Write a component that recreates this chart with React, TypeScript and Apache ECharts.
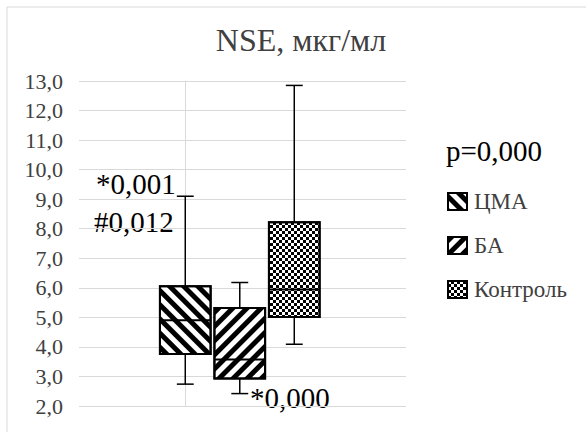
import React, { useEffect, useRef } from "react";
import * as echarts from "echarts";

// Groups and their box-and-whisker statistics (NSE, мкг/мл)
const groups = ["ЦМА", "БА", "Контроль"];
const slotPositions = [0, 1, 2];
const minValues = [2.74, 2.42, 4.09];
const q1Values = [3.76, 2.93, 5.01];
const medianValues = [4.9, 3.57, 5.94];
const q3Values = [6.05, 5.32, 8.22];
const maxValues = [9.1, 6.18, 12.85];

// Y axis range and step
const yMin = 2;
const yMax = 13;
const yStep = 1;

// Significance notes
const pTotal = "p=0,000";
const noteCma1 = "*0,001";
const noteCma2 = "#0,012";
const noteBa = "*0,000";

const SERIF = "Liberation Serif";
const TEXT_GREY = "#404040";
const GRID_GREY = "#d9d9d9";

const decals: any[] = [
  {
    symbol: "rect",
    symbolSize: 1,
    dashArrayX: [1, 0],
    dashArrayY: [5, 5],
    rotation: Math.PI / 4,
    color: "#000",
    backgroundColor: "#fff",
  },
  {
    symbol: "rect",
    symbolSize: 1,
    dashArrayX: [1, 0],
    dashArrayY: [5, 5],
    rotation: -Math.PI / 4,
    color: "#000",
    backgroundColor: "#fff",
  },
  {
    symbol: "rect",
    symbolSize: 1,
    dashArrayX: [
      [3, 3],
      [0, 3, 3, 0],
    ],
    dashArrayY: [3, 0],
    color: "#000",
    backgroundColor: "#fff",
  },
];

function renderBox(decal: any) {
  return (params: any, api: any) => {
    const x = api.value(0);
    const pMin = api.coord([x, api.value(1)]);
    const pQ1 = api.coord([x, api.value(2)]);
    const pMed = api.coord([x, api.value(3)]);
    const pQ3 = api.coord([x, api.value(4)]);
    const pMax = api.coord([x, api.value(5)]);
    const slot = api.size([1, 0])[0];
    const boxW = slot * 0.93;
    const capW = slot * 0.31;
    const cx = pMed[0];
    const lineStyle = { stroke: "#000", lineWidth: 1.5 };
    return {
      type: "group",
      children: [
        {
          type: "line",
          shape: { x1: cx, y1: pQ3[1], x2: cx, y2: pMax[1] },
          style: lineStyle,
        },
        {
          type: "line",
          shape: { x1: cx - capW / 2, y1: pMax[1], x2: cx + capW / 2, y2: pMax[1] },
          style: lineStyle,
        },
        {
          type: "line",
          shape: { x1: cx, y1: pQ1[1], x2: cx, y2: pMin[1] },
          style: lineStyle,
        },
        {
          type: "line",
          shape: { x1: cx - capW / 2, y1: pMin[1], x2: cx + capW / 2, y2: pMin[1] },
          style: lineStyle,
        },
        {
          type: "rect",
          shape: { x: cx - boxW / 2, y: pQ3[1], width: boxW, height: pQ1[1] - pQ3[1] },
          style: { fill: "#fff", stroke: "#000", lineWidth: 2, decal },
        },
        {
          type: "line",
          shape: { x1: cx - boxW / 2, y1: pMed[1], x2: cx + boxW / 2, y2: pMed[1] },
          style: { stroke: "#000", lineWidth: 2 },
        },
      ],
    };
  };
}

function noteText(
  text: string,
  x: number,
  y: number,
  fill: string,
  fontSize: number,
  align = "left"
) {
  return {
    type: "text",
    x,
    y,
    style: {
      text,
      fontFamily: SERIF,
      fontSize,
      fill,
      align,
      verticalAlign: "middle",
      textAlign: align,
      textVerticalAlign: "middle",
    },
  };
}

export default function App() {
  const ref = useRef<HTMLDivElement>(null);

  useEffect(() => {
    if (!ref.current) return;
    const chart = echarts.init(ref.current, undefined, { renderer: "svg" });

    const series = groups.map((name, i) => ({
      name,
      type: "custom",
      renderItem: renderBox(decals[i]),
      itemStyle: {
        color: "#fff",
        borderColor: "#000",
        borderWidth: 1.5,
        decal: decals[i],
      },
      encode: { x: 0, y: [1, 2, 3, 4, 5] },
      data: [
        [
          slotPositions[i],
          minValues[i],
          q1Values[i],
          medianValues[i],
          q3Values[i],
          maxValues[i],
        ],
      ],
    }));

    chart.setOption({
      animation: false,
      backgroundColor: "#fff",
      grid: { left: 79, right: 180, top: 81, bottom: 26 },
      xAxis: { type: "value", min: -1.95, max: 4.05, show: false },
      yAxis: {
        type: "value",
        min: yMin,
        max: yMax,
        interval: yStep,
        axisLine: { show: true, lineStyle: { color: GRID_GREY, width: 1 } },
        axisTick: { show: false },
        splitLine: { lineStyle: { color: GRID_GREY, width: 1 } },
        axisLabel: {
          margin: 16,
          fontFamily: SERIF,
          fontSize: 22,
          color: TEXT_GREY,
          formatter: (v: number) => v.toFixed(1).replace(".", ","),
        },
      },
      legend: {
        orient: "vertical",
        left: 442,
        top: 185,
        icon: "rect",
        itemWidth: 19,
        itemHeight: 17,
        itemGap: 21,
        data: groups,
        textStyle: { fontFamily: SERIF, fontSize: 23, color: TEXT_GREY, padding: [0, 0, 0, 2] },
      },
      graphic: [
        {
          type: "rect",
          shape: { x: 7, y: 7, width: 600, height: 440 },
          style: { fill: "none", stroke: GRID_GREY, lineWidth: 1 },
          silent: true,
        },
        noteText("NSE, мкг/мл", 301, 40, TEXT_GREY, 32, "center"),
        noteText(pTotal, 446, 151, "#000", 29),
        noteText(noteCma1, 96, 184, "#000", 29),
        noteText(noteCma2, 94, 222, "#000", 29),
        noteText(noteBa, 250, 398, "#000", 29),
      ],
      series,
    });

    return () => chart.dispose();
  }, []);

  return (
    <div
      ref={ref}
      style={{ position: "fixed", left: 0, top: 0, width: 586, height: 432 }}
    />
  );
}
